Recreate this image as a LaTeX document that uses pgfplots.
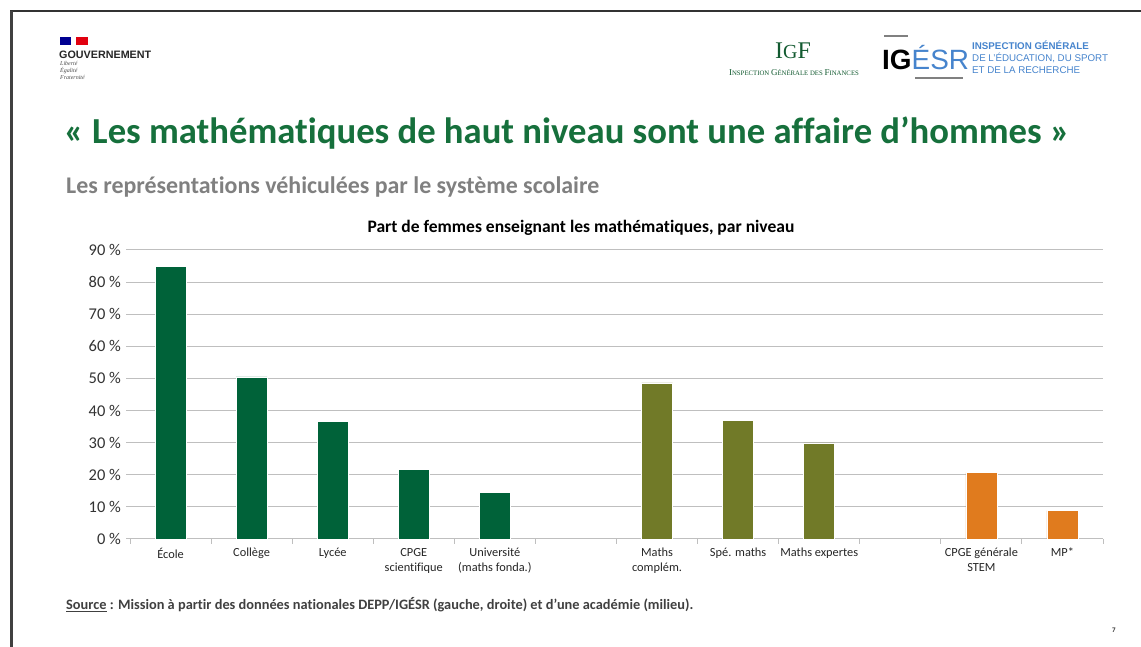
\documentclass[border=0pt]{standalone}
\usepackage{pgfplots}
\pgfplotsset{compat=1.18}
\usepackage{fontspec}
\setmainfont{Carlito}[Ligatures=NoCommon]
\newfontfamily\serifig{Liberation Serif}
\newfontfamily\sansig{Liberation Sans}
\definecolor{dkgreen}{RGB}{0,98,57}
\definecolor{olive}{RGB}{113,122,40}
\definecolor{orng}{RGB}{224,123,30}
\definecolor{titlegreen}{RGB}{22,112,60}
\definecolor{subgray}{RGB}{128,128,128}
\definecolor{srcgray}{RGB}{64,64,64}
\definecolor{gridgray}{RGB}{191,191,191}
\definecolor{igblue}{RGB}{70,132,205}
\definecolor{frgblue}{RGB}{0,0,145}
\definecolor{frred}{RGB}{225,0,15}
\begin{document}
\begin{tikzpicture}[x=1bp,y=1bp]
\useasboundingbox (0,0) rectangle (1141,647);
\fill[white] (0,0) rectangle (1141,647);
% slide frame
\draw[line width=2bp, black!80] (10,636) -- (1141,636);
\draw[line width=3bp, black!75] (11.5,636) -- (11.5,0);
% gouvernement logo
\fill[frgblue] (60,610) rectangle (71,602);
\fill[frred] (76,610) rectangle (88,602);
\node[anchor=west, inner sep=0, font=\sansig\bfseries\fontsize{10.8}{12}\selectfont, text=black!85] at (59,592) {GOUVERNEMENT};
\node[anchor=north west, inner sep=0, align=left, font=\serifig\itshape\fontsize{6}{7}\selectfont, text=black!70] at (60,586) {Liberté\\Égalité\\Fraternité};
% IGF logo
\node[inner sep=0, font=\serifig\fontsize{24}{26}\selectfont, text=titlegreen!80!black] at (793,596) {I\raisebox{0pt}{\fontsize{20}{22}\selectfont G}F};
\node[inner sep=0, font=\serifig\fontsize{9}{10}\selectfont, text=titlegreen!80!black] at (794,574) {I\fontsize{6.8}{8}\selectfont NSPECTION \fontsize{9}{10}\selectfont G\fontsize{6.8}{8}\selectfont ÉNÉRALE DES \fontsize{9}{10}\selectfont F\fontsize{6.8}{8}\selectfont INANCES};
% IGESR logo
\draw[line width=1.5bp, gray] (884,611) -- (908,611);
\node[anchor=west, inner sep=0, font=\sansig\fontsize{28}{30}\selectfont] at (882,589) {\textbf{IG}\textcolor{igblue}{ÉSR}};
\draw[line width=1.5bp, gray] (915,569) -- (963,569);
\node[anchor=north west, inner sep=0, align=left, font=\sansig\fontsize{9.8}{12}\selectfont, text=igblue] at (972,606) {\textbf{INSPECTION GÉNÉRALE}\\DE L’ÉDUCATION, DU SPORT\\ET DE LA RECHERCHE};
% titles
\node[anchor=west, inner sep=0, font=\bfseries\fontsize{36.8}{40}\selectfont, text=titlegreen] at (64,514) {« Les mathématiques de haut niveau sont une affaire d’hommes »};
\node[anchor=west, inner sep=0, font=\bfseries\fontsize{24}{27}\selectfont, text=subgray] at (66,460) {Les représentations véhiculées par le système scolaire};
\node[inner sep=0, font=\bfseries\fontsize{17.6}{19}\selectfont, text=black] at (581,419) {Part de femmes enseignant les mathématiques, par niveau};
\node[anchor=west, inner sep=0, font=\bfseries\fontsize{14.4}{16}\selectfont, text=srcgray] at (66,42) {\underline{Source} : Mission à partir des données nationales DEPP/IGÉSR (gauche, droite) et d’une académie (milieu).};
\node[inner sep=0, font=\bfseries\fontsize{7}{8}\selectfont, text=black!80] at (1114,17) {7};
% chart
\begin{axis}[
  at={(130bp,108bp)}, anchor=south west,
  scale only axis, width=973bp, height=289bp,
  xmin=-0.5, xmax=11.5, ymin=0, ymax=90,
  axis x line*=bottom, axis y line*=left,
  axis line style={-, draw=gridgray, line width=1bp},
  y axis line style={draw=none},
  ytick={0,10,...,90},
  yticklabels={0 \%,10 \%,20 \%,30 \%,40 \%,50 \%,60 \%,70 \%,80 \%,90 \%},
  ymajorgrids, grid style={gridgray, line width=1bp},
  tick align=outside,
  ytick style={draw=gridgray, line width=1bp},
  major tick length=4bp,
  yticklabel style={font=\fontsize{16.5}{18}\selectfont, text=black!80, inner sep=2bp, xshift=-3bp},
  xtick={0,...,11},
  xticklabels={École,Collège,Lycée,CPGE\\scientifique,Université\\(maths fonda.),,Maths\\complém.,Spé. maths,Maths expertes,,CPGE générale\\STEM,MP*},
  xticklabel style={font=\fontsize{12.4}{15}\selectfont, text=black!85, align=center, inner sep=2bp, yshift=-3bp},
  xtick style={draw=none},
  extra x ticks={-0.5,0.5,...,11.5},
  extra x tick labels={},
  extra x tick style={grid=none, xtick style={draw=gridgray, line width=1bp}, major tick length=5bp},
  ybar, bar width=31bp, bar shift=0pt,
]
\addplot[fill=dkgreen, draw=white, line width=0.6bp] coordinates {(0,85.0) (1,50.5) (2,36.6) (3,21.6) (4,14.4)};
\addplot[fill=olive, draw=white, line width=0.6bp] coordinates {(6,48.6) (7,37.0) (8,29.9)};
\addplot[fill=orng, draw=white, line width=0.6bp] coordinates {(10,20.7) (11,8.8)};
\end{axis}
\end{tikzpicture}
\end{document}
